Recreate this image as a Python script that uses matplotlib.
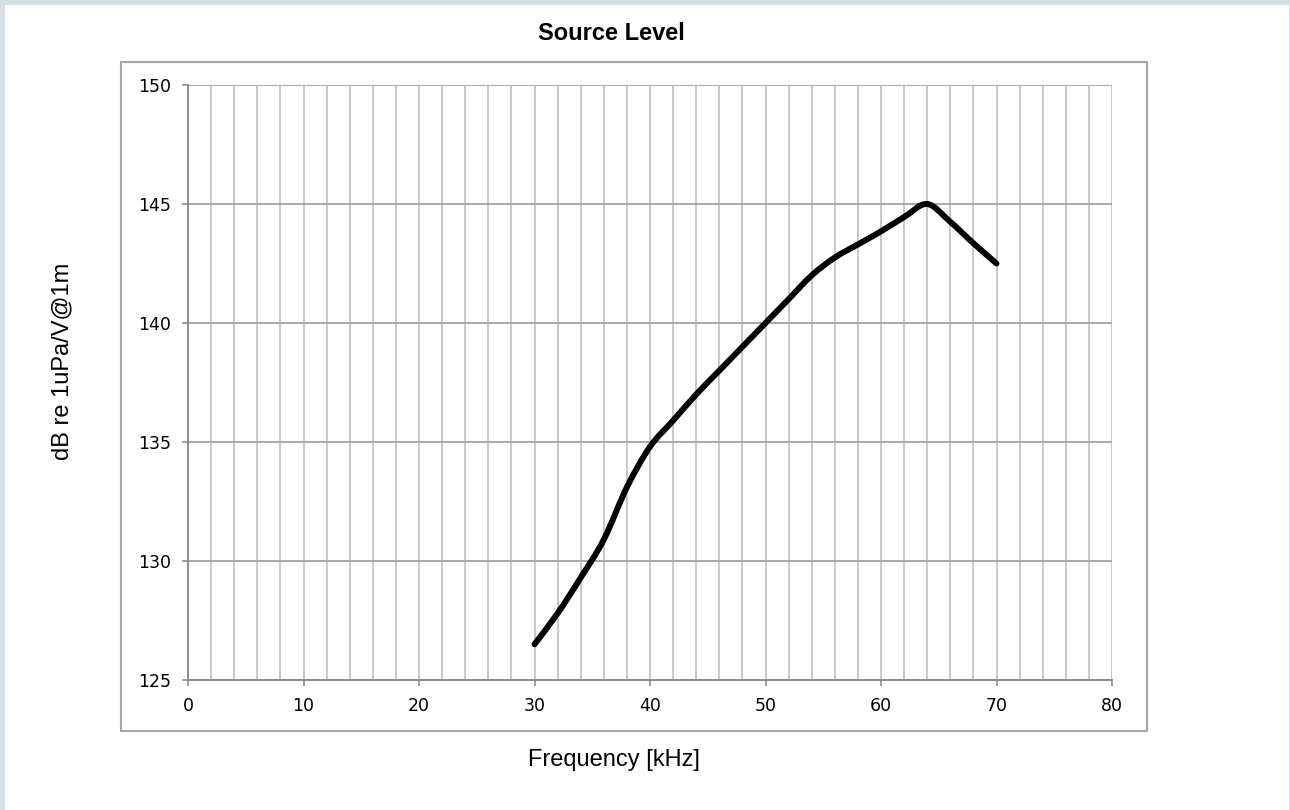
import matplotlib.pyplot as plt
from matplotlib.patches import Rectangle, PathPatch
from matplotlib.path import Path

# values (2 kHz steps)
freq_khz = [30, 32, 34, 36, 38, 40, 42, 44, 46, 48, 50,
            52, 54, 56, 58, 60, 62, 64, 66, 68, 70]
level_db = [126.5, 127.8, 129.3, 130.9, 133.1, 134.8, 135.9, 137.0, 138.0, 139.0, 140.0,
            141.0, 142.0, 142.75, 143.3, 143.85, 144.45, 145.0, 144.25, 143.35, 142.5]

x_major = [0, 10, 20, 30, 40, 50, 60, 70, 80]
x_minor = list(range(0, 81, 2))
y_major = [125, 130, 135, 140, 145, 150]


def smooth_path(xs, ys):
    """Excel-like smoothed line: Catmull-Rom segments drawn as cubic Beziers."""
    pts = list(zip(xs, ys))
    verts = [pts[0]]
    codes = [Path.MOVETO]
    n = len(pts)
    for i in range(n - 1):
        p0 = pts[i - 1] if i > 0 else pts[i]
        p1 = pts[i]
        p2 = pts[i + 1]
        p3 = pts[i + 2] if i + 2 < n else pts[i + 1]
        c1 = (p1[0] + (p2[0] - p0[0]) / 6, p1[1] + (p2[1] - p0[1]) / 6)
        c2 = (p2[0] - (p3[0] - p1[0]) / 6, p2[1] - (p3[1] - p1[1]) / 6)
        verts += [c1, c2, p2]
        codes += [Path.CURVE4] * 3
    return Path(verts, codes)


def main():
    W, H = 1290, 810
    fig = plt.figure(figsize=(W / 100, H / 100), dpi=100)
    fig.patch.set_facecolor("#d6dfe1")

    # white page with the chart box (drawn under the axes)
    fig.patches.append(Rectangle((5 / W, 0), 1284 / W, 805 / H,
                                 transform=fig.transFigure, facecolor="white",
                                 edgecolor="none", zorder=-2))
    fig.patches.append(Rectangle((121 / W, 1 - 731 / H), 1026 / W, 669 / H,
                                 transform=fig.transFigure, facecolor="none",
                                 edgecolor="#a6a6a6", linewidth=1.5, zorder=-1))

    ax = fig.add_axes([188 / W, 1 - 680 / H, 924 / W, 595 / H])
    ax.patch.set_alpha(0)

    ax.set_xlim(0, 80)
    ax.set_ylim(125, 150)

    for v in x_minor:
        ax.axvline(v, color="#c8c8c8", linewidth=1.4, zorder=1)
    for v in y_major:
        ax.axhline(v, color="#a8a8a8", linewidth=1.4, zorder=1)

    curve = PathPatch(smooth_path(freq_khz, level_db), facecolor="none",
                      edgecolor="black", linewidth=4.3, joinstyle="round",
                      capstyle="round", zorder=3)
    ax.add_patch(curve)

    for side in ["top", "right"]:
        ax.spines[side].set_visible(False)
    for side in ["left", "bottom"]:
        ax.spines[side].set_color("#8c8c8c")
        ax.spines[side].set_linewidth(1.4)
        ax.spines[side].set_zorder(2)

    ax.set_xticks(x_major)
    ax.set_yticks(y_major)
    ax.tick_params(axis="both", direction="out", length=4.5, width=1.2,
                   color="#8c8c8c", labelsize=12.5, labelcolor="black")
    ax.tick_params(axis="x", pad=8)
    ax.tick_params(axis="y", pad=8)
    for lab in ax.get_xticklabels() + ax.get_yticklabels():
        lab.set_family("DejaVu Sans")

    fig.text(611 / W, 1 - 33 / H, "Source Level", ha="center", va="center",
             fontsize=17, fontweight="bold", family="Liberation Sans")
    fig.text(614 / W, 1 - 760 / H, "Frequency [kHz]", ha="center", va="center",
             fontsize=17, family="Liberation Sans")
    fig.text(62 / W, 1 - 361 / H, "dB re 1uPa/V@1m", ha="center", va="center",
             rotation=90, fontsize=17, family="Liberation Sans")

    fig.savefig("out.png", dpi=100, facecolor=fig.get_facecolor())


if __name__ == "__main__":
    main()
